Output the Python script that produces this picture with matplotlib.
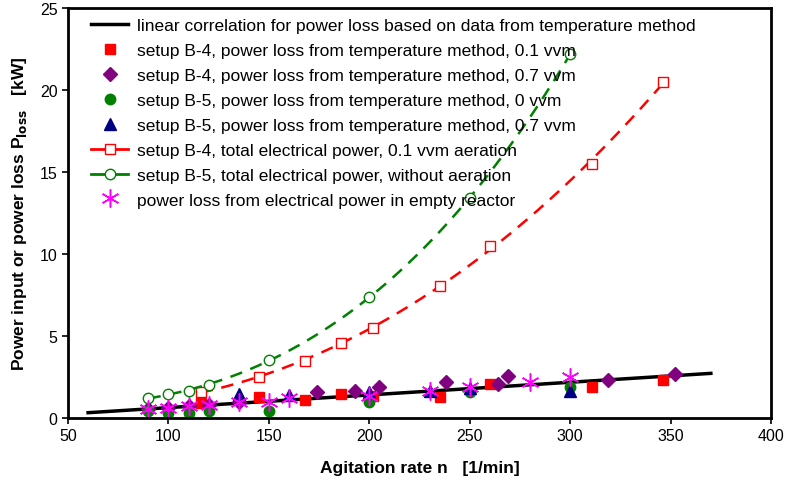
import matplotlib as mpl
import numpy as np
mpl.use('Agg')
import matplotlib.pyplot as plt

plt.rcParams['font.family'] = ['Liberation Sans', 'DejaVu Sans']

# linear correlation (end points)
lin_n = [60, 370]
lin_p = [0.32, 2.72]

# setup B-4, temperature method, 0.1 vvm
b4_01_n = [116, 145, 168, 186, 202, 235, 260, 311, 346]
b4_01_p = [0.90, 1.29, 1.10, 1.46, 1.36, 1.26, 2.07, 1.88, 2.33]

# setup B-4, temperature method, 0.7 vvm
b4_07_n = [90, 100, 110, 120, 135, 174, 193, 205, 238, 264, 269, 319, 352]
b4_07_p = [0.55, 0.60, 0.72, 0.80, 1.00, 1.58, 1.64, 1.87, 2.18, 2.07, 2.58, 2.33, 2.68]

# setup B-5, temperature method, 0 vvm
b5_0_n = [90, 100, 110, 120, 150, 200, 250, 300]
b5_0_p = [0.43, 0.30, 0.30, 0.42, 0.43, 0.97, 1.58, 1.88]

# setup B-5, temperature method, 0.7 vvm
b5_07_n = [135, 160, 200, 230, 250, 300]
b5_07_p = [1.46, 1.40, 1.58, 1.65, 1.80, 1.65]

# setup B-4, total electrical power, 0.1 vvm aeration
b4_el_n = [116, 145, 168, 186, 202, 235, 260, 311, 346]
b4_el_p = [1.58, 2.50, 3.50, 4.55, 5.50, 8.05, 10.5, 15.5, 20.5]

# setup B-5, total electrical power, without aeration
b5_el_n = [90, 100, 110, 120, 150, 200, 250, 300]
b5_el_p = [1.22, 1.46, 1.65, 2.00, 3.53, 7.40, 13.4, 22.2]

# power loss from electrical power in empty reactor
empty_n = [90, 100, 110, 120, 135, 150, 160, 200, 230, 250, 280, 300]
empty_p = [0.55, 0.60, 0.73, 0.80, 0.98, 0.97, 1.20, 1.34, 1.65, 1.89, 2.20, 2.50]


def trend(n, p, deg=3):
    c = np.polyfit(n, p, deg)
    xs = np.linspace(min(n), max(n), 200)
    return xs, np.polyval(c, xs)


fig = plt.figure(figsize=(7.87, 4.81), dpi=100)
ax = fig.add_axes([0.0864, 0.129, 0.8934, 0.852])

ax.plot(lin_n, lin_p, color='black', lw=2.5,
        label='linear correlation for power loss based on data from temperature method')
ax.plot(b4_01_n, b4_01_p, 's', color='#ff0000', ms=7, ls='none',
        label='setup B-4, power loss from temperature method, 0.1 vvm')
ax.plot(b4_07_n, b4_07_p, 'D', color='#800080', ms=7, ls='none',
        label='setup B-4, power loss from temperature method, 0.7 vvm')
ax.plot(b5_0_n, b5_0_p, 'o', color='#008000', ms=7.5, ls='none',
        label='setup B-5, power loss from temperature method, 0 vvm')
ax.plot(b5_07_n, b5_07_p, '^', color='#000080', ms=8, ls='none',
        label='setup B-5, power loss from temperature method, 0.7 vvm')

xs, ys = trend(b4_el_n, b4_el_p)
ax.plot(xs, ys, color='#ff0000', lw=1.8, dashes=(5, 3.5))
ax.plot(b4_el_n, b4_el_p, 's', mfc='white', mec='#ff0000', ms=7.5, mew=1, ls='none')
xs, ys = trend(b5_el_n, b5_el_p)
ax.plot(xs, ys, color='#008000', lw=1.8, dashes=(5, 3.5))
ax.plot(b5_el_n, b5_el_p, 'o', mfc='white', mec='#008000', ms=7.5, mew=1, ls='none')

# legend proxies for the dashed series
ax.plot([], [], '-s', color='#ff0000', lw=2, mfc='white', mec='#ff0000', ms=7.5,
        label='setup B-4, total electrical power, 0.1 vvm aeration')
ax.plot([], [], '-o', color='#008000', lw=2, mfc='white', mec='#008000', ms=7.5,
        label='setup B-5, total electrical power, without aeration')

ax.plot(empty_n, empty_p, marker=(6, 2, 0), color='#ff00ff', ms=13, mew=1.1, ls='none',
        label='power loss from electrical power in empty reactor')

ax.set_xlim(50, 400)
ax.set_ylim(0, 25)
ax.set_xticks(np.arange(50, 401, 50))
ax.set_yticks(np.arange(0, 26, 5))
ax.tick_params(direction='out', length=4, width=1.2, labelsize=11.5, colors='black')
for s in ax.spines.values():
    s.set_linewidth(2)
ax.set_xlabel('Agitation rate n   [1/min]', fontsize=12.5, fontweight='bold', labelpad=12)
ax.set_ylabel('Power input or power loss P$_{\\mathbf{loss}}$   [kW]', fontsize=12.5,
              fontweight='bold', labelpad=8)

handles, labels = ax.get_legend_handles_labels()
ax.legend(handles, labels, loc='upper left', frameon=False,
          fontsize=12.5, handlelength=2.1, handletextpad=0.5, labelspacing=0.56,
          borderaxespad=0.3, bbox_to_anchor=(0.016, 1.005))

plt.savefig('out.png', dpi=100)
plt.close()
